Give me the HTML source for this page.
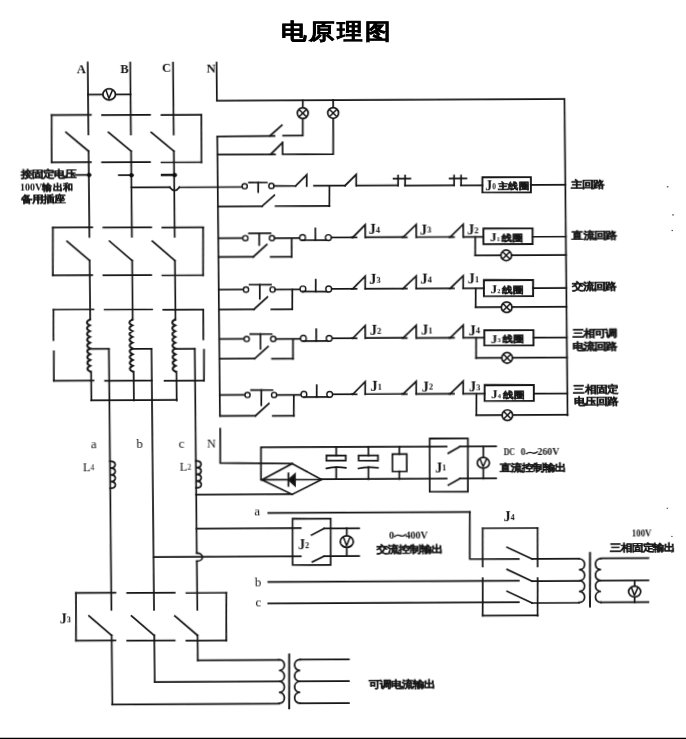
<!DOCTYPE html>
<html><head><meta charset="utf-8"><style>
html,body{margin:0;padding:0;background:#fff;width:686px;height:739px;overflow:hidden}
svg{display:block}
.sf{font-family:"Liberation Serif",serif;font-weight:bold}
.cj{font-family:"Liberation Sans",sans-serif;font-weight:bold;stroke:#141414;stroke-width:0.3px}
</style></head><body>
<svg width="686" height="739" viewBox="0 0 686 739">
<defs><filter id="sb" x="0" y="0" width="686" height="739" filterUnits="userSpaceOnUse"><feGaussianBlur stdDeviation="0.4"/></filter></defs>
<rect width="686" height="739" fill="#fff"/>
<g filter="url(#sb)">
<text transform="translate(280.8,39.0) scale(1,0.86)" font-size="26" class="cj" style="stroke:#000;stroke-width:0.5px" letter-spacing="2.4">电原理图</text>
<g transform="matrix(1,-0.00500,0.00970,1,-3.8800,1.7150)">
<g fill="none" stroke="#141414" stroke-width="1.7" stroke-linecap="square" stroke-linejoin="miter">
<polyline points="91,61.34 91,133.24"/>
<polyline points="91,149.94 91,235.54"/>
<polyline points="91,259.34 91,318.34"/>
<polyline points="133.5,61.55 133.5,133.45"/>
<polyline points="133.5,150.15 133.5,235.75"/>
<polyline points="133.5,259.55 133.5,318.55"/>
<polyline points="176.3,61.77 176.3,133.67"/>
<polyline points="176.3,150.37 176.3,235.97"/>
<polyline points="176.3,259.77 176.3,318.77"/>
<polyline points="91,93.33 133.51,93.33"/>
<ellipse cx="112.16" cy="93.23" rx="6.3" ry="5.6" fill="#fff"/>
<polyline points="108.91,88.81 111.93,97.23 115.51,88.85" stroke-width="1.5" stroke-linecap="butt" stroke-linejoin="round"/>
<polyline points="54.46,113.54 93.68,113.54"/>
<polyline points="54,160.94 93.22,160.94"/>
<polyline points="104.86,113.8 152.78,113.8"/>
<polyline points="104.4,161.2 152.32,161.2"/>
<polyline points="164.26,114.09 204.17,114.09"/>
<polyline points="163.8,161.49 203.71,161.49"/>
<polyline points="54.46,113.54 54,160.94"/>
<polyline points="204.16,114.29 203.7,161.69"/>
<polyline points="68.58,131.01 91,149.93"/>
<polyline points="111.08,131.23 133.5,150.14"/>
<polyline points="153.88,131.44 176.3,150.35"/>
<polyline points="54.57,226.15 93.89,226.15"/>
<polyline points="54.11,273.95 93.42,273.95"/>
<polyline points="105.07,226.4 152.88,226.4"/>
<polyline points="104.61,274.2 152.42,274.2"/>
<polyline points="164.07,226.7 204.78,226.7"/>
<polyline points="163.61,274.5 204.32,274.5"/>
<polyline points="54.57,226.15 54.11,273.95"/>
<polyline points="204.77,226.9 204.31,274.7"/>
<polyline points="68.59,239.82 91,259.33"/>
<polyline points="111.09,240.03 133.5,259.55"/>
<polyline points="153.89,240.25 176.3,259.76"/>
<polyline points="54.38,308.25 94.39,308.25"/>
<polyline points="105.58,308.51 152.99,308.51"/>
<polyline points="164.18,308.8 204.18,308.8"/>
<polyline points="54.09,379.35 93.7,379.35"/>
<polyline points="105.29,379.61 152.2,379.61"/>
<polyline points="164.79,379.91 204.19,379.91"/>
<polyline points="54.38,308.25 54.08,338.55"/>
<polyline points="54.37,349.75 54.09,379.35"/>
<polyline points="204.18,309 203.89,338.7"/>
<polyline points="204.49,349.2 204.19,380.11"/>
<path d="M90.5,318.34 Q84.9,321.22 90.5,324.11 Q84.9,327 90.5,329.89 Q84.9,332.78 90.5,335.67 Q84.9,338.56 90.5,341.45 Q84.9,344.34 90.5,347.22 Q84.9,350.11 90.5,353 Q84.9,355.89 90.5,358.78 Q84.9,361.67 90.5,364.56 Q84.9,367.45 90.5,370.34" fill="none" stroke-width="2.1"/>
<polyline points="91.4,370.34 91.4,399.24"/>
<polyline points="91,347.64 109.4,347.64"/>
<path d="M133,318.55 Q127.4,321.44 133,324.33 Q127.4,327.21 133,330.1 Q127.4,332.99 133,335.88 Q127.4,338.77 133,341.66 Q127.4,344.55 133,347.44 Q127.4,350.33 133,353.21 Q127.4,356.1 133,358.99 Q127.4,361.88 133,364.77 Q127.4,367.66 133,370.55" fill="none" stroke-width="2.1"/>
<polyline points="133.9,370.55 133.9,399.45"/>
<polyline points="133.5,347.85 152,347.85"/>
<path d="M175.8,318.76 Q170.2,321.65 175.8,324.54 Q170.2,327.43 175.8,330.32 Q170.2,333.21 175.8,336.1 Q170.2,338.98 175.8,341.87 Q170.2,344.76 175.8,347.65 Q170.2,350.54 175.8,353.43 Q170.2,356.32 175.8,359.21 Q170.2,362.1 175.8,364.98 Q170.2,367.87 175.8,370.76" fill="none" stroke-width="2.1"/>
<polyline points="176.7,370.77 176.7,399.67"/>
<polyline points="176.3,348.07 195.3,348.07"/>
<polyline points="91.4,399.14 176.71,399.14"/>
<polyline points="109.4,347.73 109.4,608.63"/>
<polyline points="152,347.94 152,608.84"/>
<polyline points="195.3,348.16 195.3,552.26"/>
<polyline points="195.3,560.46 195.3,609.06"/>
<path d="M195.3,552.26 C202.7,552.26 202.7,560.46 195.3,560.46" fill="none"/>
<path d="M109.4,460.03 C116.32,460.03 116.32,466.81 109.4,466.81 C116.32,466.81 116.32,473.58 109.4,473.58 C116.32,473.58 116.32,480.36 109.4,480.36 C116.32,480.36 116.32,487.13 109.4,487.13" fill="none"/>
<path d="M195.3,460.06 C202.22,460.06 202.22,466.81 195.3,466.81 C202.22,466.81 202.22,473.56 195.3,473.56 C202.22,473.56 202.22,480.31 195.3,480.31 C202.22,480.31 202.22,487.06 195.3,487.06" fill="none"/>
<polyline points="219.8,61.98 219.8,100.18"/>
<polyline points="219.8,100.17 567.41,100.17"/>
<polyline points="567.4,101.92 567.4,416.42"/>
<polyline points="305.71,100 305.36,135.4 285.76,135.3"/>
<circle cx="305.58" cy="113" r="5.4" fill="#fff"/>
<polyline points="301.84,109.2 309.33,116.8" stroke-width="1.5" stroke-linecap="butt"/>
<polyline points="301.77,116.76 309.4,109.24" stroke-width="1.5" stroke-linecap="butt"/>
<polyline points="336.11,99.95 335.58,154.25 284.98,154 285.1,142.3"/>
<circle cx="335.98" cy="112.95" r="5.4" fill="#fff"/>
<polyline points="332.24,109.15 339.73,116.75" stroke-width="1.5" stroke-linecap="butt"/>
<polyline points="332.17,116.71 339.8,109.19" stroke-width="1.5" stroke-linecap="butt"/>
<polyline points="219.8,135.78 219.8,415.38"/>
<polyline points="219.8,135.77 277.16,135.56"/>
<polyline points="272.56,135.44 284.57,124.89"/>
<polyline points="219.8,153.97 277.38,154.06"/>
<polyline points="273.08,153.94 285.1,142.3"/>
<polyline points="133.5,186.34 171.87,186.34"/>
<path d="M171.86,186.53 Q176.6,192.96 181.46,186.48" fill="none"/>
<polyline points="181.46,186.48 244.27,186.48"/>
<circle cx="246.77" cy="185.81" r="2.6" fill="#fff" stroke-width="1.4"/>
<polyline points="251.11,182.13 268.91,182.22"/>
<polyline points="260.31,182.18 260.22,191.58"/>
<circle cx="273.48" cy="185.64" r="2.6" fill="#fff" stroke-width="1.4"/>
<polyline points="276.08,185.66 297.58,185.76"/>
<polyline points="297.58,185.76 308.88,174.62 308.78,185.82"/>
<polyline points="316.08,185.55 347.08,185.55"/>
<polyline points="347.08,185.71 358.39,174.57 358.28,185.77"/>
<polyline points="331.48,185.73 331.28,206.03"/>
<polyline points="219.8,205.77 263.88,205.79"/>
<polyline points="263.88,205.79 276.39,194.86"/>
<polyline points="277.48,205.76 331.28,205.93"/>
<polyline points="358.78,185.67 400.18,185.67"/>
<polyline points="395.75,178.85 412.55,178.94"/>
<polyline points="400.28,175.88 400.18,185.88"/>
<polyline points="407.28,175.91 407.18,185.91"/>
<polyline points="407.18,185.91 456.18,185.91"/>
<polyline points="451.75,179.03 468.55,179.12"/>
<polyline points="456.28,176.06 456.18,186.06"/>
<polyline points="463.28,176.09 463.18,186.09"/>
<polyline points="463.18,186.09 484.47,186.09"/>
<polygon points="484.56,177.9 533.06,178.14 532.91,193.34 484.41,193.1" fill="none" stroke-width="1.9"/>
<polyline points="532.79,185.94 567.39,185.94"/>
<polyline points="219.8,237.58 244.38,237.58"/>
<circle cx="246.97" cy="237.71" r="2.6" fill="#fff" stroke-width="1.4"/>
<polyline points="250.62,232.83 272.02,232.94"/>
<polyline points="260.82,232.88 260.7,244.58"/>
<circle cx="273.57" cy="237.84" r="2.6" fill="#fff" stroke-width="1.4"/>
<polyline points="276.17,237.86 301.07,237.86"/>
<polyline points="293.27,237.94 293.09,256.64"/>
<circle cx="304.18" cy="237.4" r="2.9" fill="#fff" stroke-width="1.4"/>
<polyline points="304.15,240 329.95,240.13"/>
<polyline points="316.95,240.06 317.06,228.26"/>
<circle cx="329.98" cy="237.53" r="2.9" fill="#fff" stroke-width="1.4"/>
<polyline points="332.98,237.44 354.38,237.44"/>
<polyline points="354.38,237.45 366.9,224.91 366.78,237.51"/>
<polyline points="353.38,237.44 358.18,237.47"/>
<polyline points="366.98,237.41 404.58,237.41"/>
<polyline points="404.58,237.5 417.9,224.97 417.78,237.57"/>
<polyline points="403.58,237.49 408.38,237.52"/>
<polyline points="417.98,237.47 451.78,237.47"/>
<polyline points="451.78,237.54 464.9,225 464.78,237.6"/>
<polyline points="450.78,237.53 455.58,237.56"/>
<polyline points="464.98,237.6 484.98,237.6"/>
<polyline points="219.8,256.28 254.69,256.28"/>
<polyline points="254.69,256.45 268.31,244.22"/>
<polyline points="272.09,256.54 293.09,256.54"/>
<polygon points="485.06,229.1 534.26,229.35 534.11,245.05 484.91,244.8" fill="none" stroke-width="1.9"/>
<polyline points="534.18,237.75 567.4,237.75"/>
<polyline points="476.78,237.66 476.6,256.06"/>
<polyline points="476.6,256.06 567.39,256.06"/>
<circle cx="507.6" cy="256.22" r="5.3" fill="#fff"/>
<polyline points="503.93,252.49 511.28,259.94" stroke-width="1.5" stroke-linecap="butt"/>
<polyline points="503.86,259.91 511.35,252.52" stroke-width="1.5" stroke-linecap="butt"/>
<polyline points="219.8,288.98 244.48,288.98"/>
<circle cx="247.07" cy="289.12" r="2.6" fill="#fff" stroke-width="1.4"/>
<polyline points="250.72,284.23 272.12,284.34"/>
<polyline points="260.92,284.28 260.78,298.38"/>
<circle cx="273.67" cy="289.25" r="2.6" fill="#fff" stroke-width="1.4"/>
<polyline points="276.27,289.26 300.87,289.26"/>
<polyline points="293.37,289.35 293.18,309.15"/>
<circle cx="303.98" cy="288.8" r="2.9" fill="#fff" stroke-width="1.4"/>
<polyline points="303.95,291.4 329.75,291.53"/>
<polyline points="316.75,291.46 316.87,279.66"/>
<circle cx="329.78" cy="288.93" r="2.9" fill="#fff" stroke-width="1.4"/>
<polyline points="332.78,288.84 353.88,288.84"/>
<polyline points="353.88,288.85 366.4,276.31 366.28,288.91"/>
<polyline points="352.88,288.84 357.68,288.87"/>
<polyline points="366.48,288.81 404.08,288.81"/>
<polyline points="404.08,288.9 417.4,276.37 417.28,288.97"/>
<polyline points="403.08,288.9 407.88,288.92"/>
<polyline points="417.48,288.87 451.28,288.87"/>
<polyline points="451.28,288.94 464.4,276.4 464.28,289"/>
<polyline points="450.28,288.93 455.08,288.96"/>
<polyline points="464.48,289 484.98,289"/>
<polyline points="219.8,308.78 254.78,308.78"/>
<polyline points="254.78,308.95 268.4,296.72"/>
<polyline points="272.18,309.04 293.18,309.04"/>
<polygon points="485.06,280.7 534.26,280.95 534.11,297.15 484.91,296.9" fill="none" stroke-width="1.9"/>
<polyline points="534.18,289.15 567.4,289.15"/>
<polyline points="476.78,289.06 476.6,307.96"/>
<polyline points="476.6,307.96 567.39,307.96"/>
<circle cx="507.6" cy="308.12" r="5.3" fill="#fff"/>
<polyline points="503.93,304.39 511.27,311.85" stroke-width="1.5" stroke-linecap="butt"/>
<polyline points="503.85,311.81 511.35,304.43" stroke-width="1.5" stroke-linecap="butt"/>
<polyline points="219.8,338.38 244.7,338.38"/>
<circle cx="247.29" cy="338.52" r="2.6" fill="#fff" stroke-width="1.4"/>
<polyline points="250.94,333.64 272.34,333.74"/>
<polyline points="261.14,333.69 261,348.39"/>
<circle cx="273.89" cy="338.65" r="2.6" fill="#fff" stroke-width="1.4"/>
<polyline points="276.49,338.66 300.89,338.66"/>
<polyline points="293.59,338.75 293.4,358.55"/>
<circle cx="304" cy="338.2" r="2.9" fill="#fff" stroke-width="1.4"/>
<polyline points="303.97,340.8 329.77,340.93"/>
<polyline points="316.77,340.87 316.89,329.07"/>
<circle cx="329.8" cy="338.33" r="2.9" fill="#fff" stroke-width="1.4"/>
<polyline points="332.8,338.25 353.4,338.25"/>
<polyline points="353.4,338.25 365.92,325.71 365.8,338.31"/>
<polyline points="352.4,338.24 357.2,338.27"/>
<polyline points="366,338.21 403.6,338.21"/>
<polyline points="403.6,338.3 416.92,325.77 416.8,338.37"/>
<polyline points="402.6,338.3 407.4,338.32"/>
<polyline points="417,338.27 450.8,338.27"/>
<polyline points="450.8,338.34 463.93,325.8 463.8,338.4"/>
<polyline points="449.8,338.33 454.6,338.36"/>
<polyline points="464,338.4 484.9,338.4"/>
<polyline points="219.8,358.18 255.01,358.18"/>
<polyline points="255,358.36 268.62,346.13"/>
<polyline points="272.4,358.44 293.4,358.44"/>
<polygon points="484.98,330.91 534.18,331.15 534.03,346.35 484.83,346.11" fill="none" stroke-width="1.9"/>
<polyline points="534.11,338.55 567.4,338.55"/>
<polyline points="476.7,338.47 476.51,358.57"/>
<polyline points="476.51,358.57 567.39,358.57"/>
<circle cx="507.51" cy="358.72" r="5.3" fill="#fff"/>
<polyline points="503.83,354.99 511.18,362.45" stroke-width="1.5" stroke-linecap="butt"/>
<polyline points="503.76,362.41 511.25,355.03" stroke-width="1.5" stroke-linecap="butt"/>
<polyline points="219.8,394.38 244.95,394.38"/>
<circle cx="247.55" cy="394.52" r="2.6" fill="#fff" stroke-width="1.4"/>
<polyline points="251.2,389.64 272.6,389.75"/>
<polyline points="261.4,389.69 261.25,404.79"/>
<circle cx="274.15" cy="394.66" r="2.6" fill="#fff" stroke-width="1.4"/>
<polyline points="276.75,394.67 300.85,394.67"/>
<polyline points="293.85,394.75 293.65,415.65"/>
<circle cx="303.95" cy="394.2" r="2.9" fill="#fff" stroke-width="1.4"/>
<polyline points="303.93,396.8 329.73,396.93"/>
<polyline points="316.73,396.87 316.84,385.07"/>
<circle cx="329.75" cy="394.33" r="2.9" fill="#fff" stroke-width="1.4"/>
<polyline points="332.76,394.25 352.86,394.25"/>
<polyline points="352.86,394.25 365.38,381.71 365.26,394.31"/>
<polyline points="351.86,394.24 356.66,394.27"/>
<polyline points="365.46,394.21 403.06,394.21"/>
<polyline points="403.06,394.3 416.38,381.77 416.26,394.37"/>
<polyline points="402.06,394.3 406.86,394.32"/>
<polyline points="416.46,394.27 450.26,394.27"/>
<polyline points="450.26,394.34 463.38,381.8 463.26,394.4"/>
<polyline points="449.26,394.33 454.06,394.36"/>
<polyline points="463.46,394.4 484.65,394.4"/>
<polyline points="219.8,415.28 255.25,415.28"/>
<polyline points="255.25,415.46 268.87,403.23"/>
<polyline points="272.65,415.55 293.65,415.55"/>
<polygon points="484.75,385.71 533.95,385.95 533.79,401.85 484.59,401.61" fill="none" stroke-width="1.9"/>
<polyline points="533.86,394.55 567.4,394.55"/>
<polyline points="476.46,394.47 476.25,415.87"/>
<polyline points="476.25,415.87 567.39,415.87"/>
<circle cx="507.25" cy="416.02" r="5.3" fill="#fff"/>
<polyline points="503.58,412.29 510.93,419.75" stroke-width="1.5" stroke-linecap="butt"/>
<polyline points="503.51,419.71 511,412.33" stroke-width="1.5" stroke-linecap="butt"/>
<polyline points="77.98,173.66 91.01,173.66"/>
<circle cx="91.3" cy="173.73" r="2" fill="#111" stroke-width="0.5"/>
<polyline points="121.08,174.08 133.51,174.08"/>
<circle cx="133.7" cy="174.14" r="2" fill="#111" stroke-width="0.5"/>
<polyline points="164.18,174.09 176.31,174.09" stroke-width="2.4"/>
<circle cx="176.9" cy="174.16" r="2" fill="#111" stroke-width="0.5"/>
<polyline points="219.92,428.19 219.59,462.39 291.58,463.35"/>
<polyline points="291.58,463.35 320.73,479.49 291.28,494.15 261.13,479.39 291.58,463.35"/>
<polyline points="261.13,479.39 320.73,479.49"/>
<path d="M287.83,479.53 L294.28,473.96 L294.17,485.36 Z" fill="#111"/>
<polyline points="287.69,473.13 287.57,485.53" stroke-width="1.8"/>
<polyline points="260.23,479.39 260.54,446.89 446.15,447.12"/>
<polyline points="320.73,479.19 445.83,479.19"/>
<polyline points="195.3,493.77 291.29,493.77"/>
<polyline points="335.75,446.77 335.66,455.47"/>
<polygon points="325.86,455.42 345.26,455.51 345.21,460.61 325.81,460.52" fill="none"/>
<path d="M325.74,468.32 Q335.56,466.37 345.14,467.81" fill="none"/>
<polyline points="335.55,467.17 335.43,479.17"/>
<polyline points="367.95,446.93 367.86,455.63"/>
<polygon points="358.06,455.58 377.46,455.68 377.41,460.78 358.01,460.68" fill="none"/>
<path d="M357.94,468.48 Q367.76,466.53 377.34,467.98" fill="none"/>
<polyline points="367.75,467.33 367.63,479.33"/>
<polyline points="398.85,446.98 398.78,454.28"/>
<polygon points="391.88,454.25 406.28,454.32 406.11,471.72 391.71,471.65" fill="none"/>
<polyline points="398.61,471.68 398.53,479.48"/>
<polygon points="429.33,438.83 467.53,439.02 467.01,492.32 428.81,492.13" fill="none"/>
<polyline points="447.78,453.73 459.55,447.19"/>
<polyline points="459.55,447.19 495.64,447.19"/>
<polyline points="447.47,485.63 459.24,479.19"/>
<polyline points="459.24,479.19 495.33,479.19"/>
<polyline points="482.85,447.3 482.54,479.3"/>
<ellipse cx="482.69" cy="463.6" rx="6.1" ry="5.4" fill="#fff"/>
<polyline points="479.43,459.38 482.45,467.4 486.03,459.42" stroke-width="1.5" stroke-linecap="butt" stroke-linejoin="round"/>
<polyline points="267.2,512.63 468.71,512.63"/>
<polyline points="468.71,512.63 468.26,559.63 517.26,559.88"/>
<polyline points="195.3,527.87 299.56,527.87"/>
<polyline points="152,556.05 299.29,556.05"/>
<polygon points="291.45,518.45 329.55,518.64 329.1,564.94 291,564.75" fill="none"/>
<polyline points="310.29,534.94 322.85,528.31"/>
<polyline points="322.85,528.31 357.86,528.31"/>
<polyline points="310.83,561.75 322.59,556.01"/>
<polyline points="322.59,556.01 357.59,556.01"/>
<polyline points="345.55,528.42 345.29,556.12"/>
<ellipse cx="345.43" cy="541.62" rx="6.5" ry="5.8" fill="#fff"/>
<polyline points="342.17,537 345.19,545.82 348.77,537.04" stroke-width="1.5" stroke-linecap="butt" stroke-linejoin="round"/>
<polyline points="481.46,529 536.35,529"/>
<polyline points="480.61,616.4 535.5,616.4"/>
<polyline points="481.46,529 481.09,567.1"/>
<polyline points="480.97,578.8 480.61,616.4"/>
<polyline points="536.36,529.27 535.99,567.37"/>
<polyline points="535.87,579.07 535.51,616.67"/>
<polyline points="266.53,581.63 517.04,581.63"/>
<polyline points="266.33,603.03 516.83,603.03"/>
<polyline points="505.67,548.12 530.46,559.95"/>
<polyline points="530.46,559.95 577.45,559.95"/>
<polyline points="505.46,570.32 530.24,582.15"/>
<polyline points="530.24,582.15 577.23,582.15"/>
<polyline points="505.24,592.12 530.03,603.95"/>
<polyline points="530.03,603.95 577.02,603.95"/>
<path d="M577.46,559.98 C584.91,560.02 584.8,570.92 577.35,570.88 C584.8,570.92 584.7,581.82 577.25,581.78 C584.7,581.82 584.59,592.72 577.14,592.68 C584.59,592.72 584.48,603.62 577.04,603.58" fill="none"/>
<polyline points="588.52,554.24 588,607.84" stroke-width="1.9"/>
<path d="M599.46,559.89 C592.01,559.85 591.91,570.8 599.36,570.84 C591.91,570.8 591.8,581.75 599.25,581.79 C591.8,581.75 591.69,592.7 599.14,592.74 C591.69,592.7 591.59,603.65 599.04,603.69" fill="none"/>
<polyline points="599.46,559.69 646.85,559.69"/>
<polyline points="599.25,581.89 646.64,581.89"/>
<polyline points="599.04,603.69 646.42,603.69"/>
<polyline points="632.85,582.06 632.64,603.86"/>
<ellipse cx="632.74" cy="593.06" rx="6.1" ry="5.4" fill="#fff"/>
<polyline points="629.48,588.84 632.5,596.86 636.08,588.87" stroke-width="1.5" stroke-linecap="butt" stroke-linejoin="round"/>
<polyline points="74.13,591.66 113.54,591.66"/>
<polyline points="73.67,639.26 113.08,639.26"/>
<polyline points="125.33,591.92 172.84,591.92"/>
<polyline points="124.87,639.52 172.38,639.52"/>
<polyline points="184.53,592.22 224.44,592.22"/>
<polyline points="184.07,639.82 223.97,639.82"/>
<polyline points="74.13,591.66 73.67,639.26"/>
<polyline points="224.43,592.42 223.97,640.02"/>
<polyline points="86.89,614.73 109.4,634.24"/>
<polyline points="129.49,614.94 152,634.46"/>
<polyline points="172.79,615.16 195.3,634.67"/>
<polyline points="109.4,634.23 109.4,703.23"/>
<polyline points="109.4,703.25 276.06,703.25"/>
<polyline points="152,634.44 152,681.04"/>
<polyline points="152,681.06 276.27,681.06"/>
<polyline points="195.3,634.66 195.3,659.66"/>
<polyline points="195.3,659.67 276.48,659.67"/>
<path d="M276.48,659.28 C283.66,659.32 283.56,670.24 276.38,670.2 C283.56,670.24 283.45,681.17 276.27,681.13 C283.45,681.17 283.35,692.09 276.16,692.05 C283.35,692.09 283.24,703.02 276.06,702.98" fill="none"/>
<polyline points="286.73,654.23 286.21,708.13" stroke-width="1.9"/>
<path d="M297.68,659.39 C290.23,659.35 290.13,670.27 297.58,670.31 C290.13,670.27 290.02,681.2 297.47,681.24 C290.02,681.2 289.92,692.12 297.36,692.16 C289.92,692.12 289.81,703.05 297.26,703.09" fill="none"/>
<polyline points="297.68,659.39 346.38,659.39"/>
<polyline points="297.47,681.19 346.17,681.19"/>
<polyline points="297.26,703.09 345.96,703.09"/>
<path d="M525.88,454.68 C530.87,450.22 531.9,457.27 536.9,452.81" fill="none" stroke-width="1.3"/>
<path d="M393.28,536.82 C398.18,532.36 399.19,539.41 404.09,534.95" fill="none" stroke-width="1.3"/>
</g>
<g fill="#141414" stroke="none">
<text x="79.97" y="72.07" font-size="12.5" class="sf">A</text>
<text x="123.47" y="72.29" font-size="12.5" class="sf">B</text>
<text x="165.28" y="71.5" font-size="12.5" class="sf">C</text>
<text x="209.78" y="71.52" font-size="12.5" class="sf">N</text>
<text transform="translate(22.96,175.99) scale(1.0,0.88)" font-size="11" class="cj" textLength="55" lengthAdjust="spacingAndGlyphs">接固定电压</text>
<text x="21.94" y="188.58" font-size="10" class="sf" textLength="22.4" lengthAdjust="spacingAndGlyphs">100V</text>
<text transform="translate(44.33,189.4) scale(1.0,0.88)" font-size="10.6" class="cj" textLength="31.2" lengthAdjust="spacingAndGlyphs">输出和</text>
<text transform="translate(22.71,201.39) scale(1.0,0.88)" font-size="11" class="cj" textLength="43.8" lengthAdjust="spacingAndGlyphs">备用插座</text>
<text transform="translate(572.86,188.84) scale(1.0,0.88)" font-size="11" class="cj" textLength="33.2" lengthAdjust="spacingAndGlyphs">主回路</text>
<text transform="translate(573.47,239.74) scale(1.0,0.88)" font-size="11" class="cj" textLength="44.3" lengthAdjust="spacingAndGlyphs">直流回路</text>
<text transform="translate(572.77,291.34) scale(1.0,0.88)" font-size="11" class="cj" textLength="44.5" lengthAdjust="spacingAndGlyphs">交流回路</text>
<text transform="translate(572.71,337.75) scale(1.0,0.88)" font-size="11" class="cj" textLength="45" lengthAdjust="spacingAndGlyphs">三相可调</text>
<text transform="translate(572.59,350.85) scale(1.0,0.88)" font-size="11" class="cj" textLength="45" lengthAdjust="spacingAndGlyphs">电流回路</text>
<text transform="translate(573.47,393.55) scale(1.0,0.88)" font-size="11" class="cj" textLength="44.2" lengthAdjust="spacingAndGlyphs">三相固定</text>
<text transform="translate(574.25,406.26) scale(1.0,0.88)" font-size="11" class="cj" textLength="43.8" lengthAdjust="spacingAndGlyphs">电压回路</text>
<text x="487.24" y="190.71" font-size="14" class="sf">J<tspan font-size="7.5" dy="-0.5">0</tspan></text>
<text transform="translate(499.64,190.17) scale(1.0,0.88)" font-size="10.4" class="cj" textLength="32" lengthAdjust="spacingAndGlyphs">主线圈</text>
<text x="491.44" y="242.23" font-size="13.5" class="sf">J<tspan font-size="6.5" dy="-0.5">1</tspan></text>
<text transform="translate(503.14,241.89) scale(1.0,0.88)" font-size="10.2" class="cj" textLength="22.2" lengthAdjust="spacingAndGlyphs">线圈</text>
<text x="491.43" y="294.34" font-size="13.5" class="sf">J<tspan font-size="6.5" dy="-0.5">2</tspan></text>
<text transform="translate(503.14,294) scale(1.0,0.88)" font-size="10.2" class="cj" textLength="22.2" lengthAdjust="spacingAndGlyphs">线圈</text>
<text x="491.35" y="343.54" font-size="13.5" class="sf">J<tspan font-size="6.5" dy="-0.5">3</tspan></text>
<text transform="translate(503.06,343.2) scale(1.0,0.88)" font-size="10.2" class="cj" textLength="22.2" lengthAdjust="spacingAndGlyphs">线圈</text>
<text x="491.12" y="399.04" font-size="13.5" class="sf">J<tspan font-size="6.5" dy="-0.5">4</tspan></text>
<text transform="translate(502.82,398.7) scale(1.0,0.88)" font-size="10.2" class="cj" textLength="22.2" lengthAdjust="spacingAndGlyphs">线圈</text>
<text x="370.21" y="234.43" font-size="14.5" class="sf">J<tspan font-size="8.5" dy="-1.2">4</tspan></text>
<text x="421.41" y="234.68" font-size="14.5" class="sf">J<tspan font-size="8.5" dy="-1.2">3</tspan></text>
<text x="468.81" y="234.92" font-size="14.5" class="sf">J<tspan font-size="8.5" dy="-1.2">2</tspan></text>
<text x="370.23" y="283.83" font-size="14.5" class="sf">J<tspan font-size="8.5" dy="-1.2">3</tspan></text>
<text x="421.43" y="284.09" font-size="14.5" class="sf">J<tspan font-size="8.5" dy="-1.2">4</tspan></text>
<text x="468.83" y="284.32" font-size="14.5" class="sf">J<tspan font-size="8.5" dy="-1.2">1</tspan></text>
<text x="370.53" y="335.03" font-size="14.5" class="sf">J<tspan font-size="8.5" dy="-1.2">2</tspan></text>
<text x="421.73" y="335.29" font-size="14.5" class="sf">J<tspan font-size="8.5" dy="-1.2">1</tspan></text>
<text x="469.13" y="335.53" font-size="14.5" class="sf">J<tspan font-size="8.5" dy="-1.2">4</tspan></text>
<text x="370.49" y="391.34" font-size="14.5" class="sf">J<tspan font-size="8.5" dy="-1.2">1</tspan></text>
<text x="421.69" y="391.59" font-size="14.5" class="sf">J<tspan font-size="8.5" dy="-1.2">2</tspan></text>
<text x="469.09" y="391.83" font-size="14.5" class="sf">J<tspan font-size="8.5" dy="-1.2">3</tspan></text>
<text x="90.53" y="447.34" font-size="13" class="sf" style="font-weight:normal">a</text>
<text x="135.93" y="447.07" font-size="13" class="sf" style="font-weight:normal">b</text>
<text x="178.33" y="447.28" font-size="13" class="sf" style="font-weight:normal">c</text>
<text x="206.54" y="447.12" font-size="12.5" class="sf" style="font-weight:normal">N</text>
<text x="82.21" y="469.6" font-size="12.5" class="sf" style="font-weight:normal">L<tspan font-size="8" dy="-0.5">4</tspan></text>
<text x="179.01" y="469.88" font-size="12.5" class="sf" style="font-weight:normal">L<tspan font-size="8" dy="-0.5">2</tspan></text>
<text x="434.5" y="472.66" font-size="14" class="sf">J<tspan font-size="8" dy="-1.5">1</tspan></text>
<text x="503.26" y="456.2" font-size="9.3" class="sf" textLength="11.2" lengthAdjust="spacingAndGlyphs">DC</text>
<text x="520.16" y="456.29" font-size="9.3" class="sf">0</text>
<text x="537.06" y="456.37" font-size="9.3" class="sf" textLength="21.8" lengthAdjust="spacingAndGlyphs">260V</text>
<text transform="translate(498.5,472.48) scale(1.0,0.88)" font-size="11" class="cj" textLength="66" lengthAdjust="spacingAndGlyphs">直流控制输出</text>
<text x="253.28" y="515.06" font-size="13" class="sf" style="font-weight:normal">a</text>
<text x="296.75" y="549.38" font-size="14" class="sf">J<tspan font-size="8" dy="-1.5">2</tspan></text>
<text x="387.65" y="539.23" font-size="10.3" class="sf">0</text>
<text x="404.15" y="539.31" font-size="10.3" class="sf" textLength="22.4" lengthAdjust="spacingAndGlyphs">400V</text>
<text transform="translate(374.71,553.47) scale(1.0,0.88)" font-size="11" class="cj" textLength="65.8" lengthAdjust="spacingAndGlyphs">交流控制输出</text>
<text x="502.62" y="522.1" font-size="14" class="sf">J<tspan font-size="8" dy="-1.5">4</tspan></text>
<text x="252.89" y="585.86" font-size="13" class="sf" style="font-weight:normal">b</text>
<text x="253.4" y="606.06" font-size="13" class="sf" style="font-weight:normal">c</text>
<text x="630.48" y="537.74" font-size="9.6" class="sf" textLength="19.8" lengthAdjust="spacingAndGlyphs">100V</text>
<text transform="translate(608.34,552.33) scale(1.0,0.88)" font-size="11" class="cj" textLength="65" lengthAdjust="spacingAndGlyphs">三相固定输出</text>
<text x="57.83" y="622.29" font-size="14" class="sf">J<tspan font-size="8" dy="-1.5">3</tspan></text>
<text transform="translate(365.71,688.13) scale(1.0,0.88)" font-size="11" class="cj" textLength="66.4" lengthAdjust="spacingAndGlyphs">可调电流输出</text>
</g>
</g>
</g>
<rect x="0" y="737.75" width="686" height="1.25" fill="#000"/>
<g fill="#444">
<rect x="666.8" y="186.2" width="1.6" height="1.2"/>
<rect x="672.2" y="214.3" width="1.6" height="1.2"/>
<rect x="671.6" y="229.9" width="1.3" height="1.2"/>
<rect x="666.6" y="507.8" width="1.4" height="1"/>
<rect x="671.2" y="535.9" width="1.4" height="1"/>
<rect x="671.0" y="551.7" width="1.6" height="0.9"/>
</g>
</svg>
</body></html>
